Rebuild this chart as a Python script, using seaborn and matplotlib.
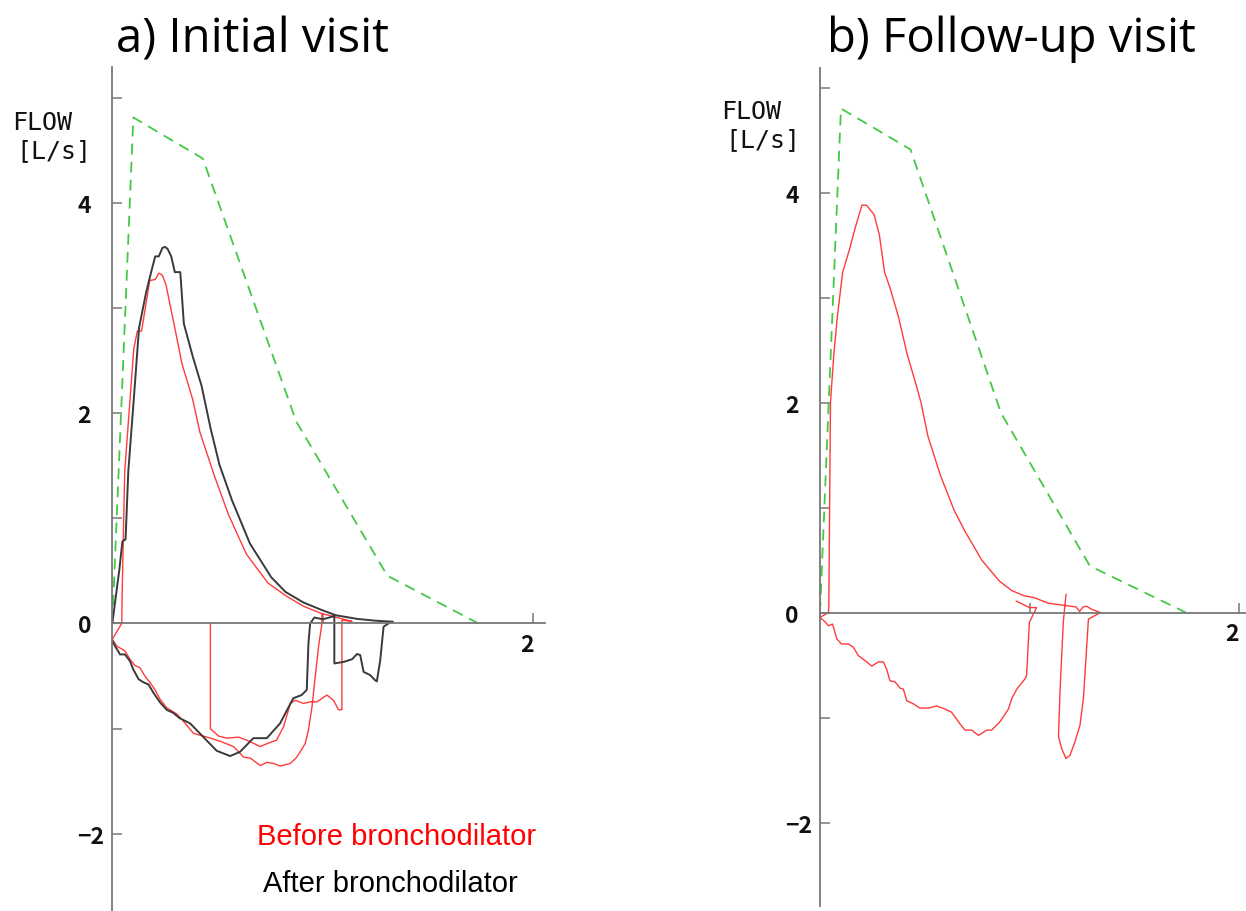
import numpy as np
import pandas as pd
import matplotlib
matplotlib.use("Agg")
import matplotlib.pyplot as plt
import seaborn as sns

# ---- data (volume [L], flow [L/s]) ----
# predicted curve (green dashed)
a_pred_vol = [0.0, 0.10, 0.43, 0.874, 1.307, 1.74]
a_pred_flow = [0.0, 4.81, 4.42, 1.92, 0.454, 0.0]
b_pred_vol = [0.0, 0.10, 0.432, 0.864, 1.288, 1.746]
b_pred_flow = [0.0, 4.80, 4.41, 1.90, 0.443, 0.0]

# a) before bronchodilator (red): 2nd inspiration -> expiration -> 1st inspiration
a_before_vol = [0.996, 0.996, 0.98, 0.964, 0.949, 0.932, 0.917, 0.877, 0.846, 0.798,
                0.766, 0.735, 0.703, 0.656, 0.624, 0.576, 0.513, 0.45, 0.386, 0.33,
                0.306, 0.258, 0.227, 0.203, 0.179, 0.155, 0.131, 0.108, 0.084, 0.06,
                0.021, 0.0,
                0.045, 0.047, 0.059, 0.102, 0.119, 0.139, 0.178, 0.204, 0.221, 0.238,
                0.255, 0.297, 0.331, 0.382, 0.416, 0.484, 0.552, 0.637, 0.739, 0.823,
                0.908, 0.993, 1.061, 1.10, 1.139,
                1.10, 1.091, 1.091, 1.075, 1.051, 1.02, 0.972, 0.94, 0.909, 0.869,
                0.846, 0.814, 0.78, 0.75, 0.703, 0.64, 0.60, 0.544, 0.505, 0.466,
                0.466]
a_before_flow = [0.095, 0.0, -0.22, -0.51, -0.79, -1.01, -1.14, -1.27, -1.33, -1.355,
                 -1.33, -1.32, -1.35, -1.28, -1.27, -1.17, -1.12, -1.08, -1.045, -0.91,
                 -0.86, -0.80, -0.72, -0.63, -0.56, -0.50, -0.42, -0.40, -0.34, -0.26,
                 -0.215, -0.15,
                 0.0, 0.3, 1.445, 2.61, 2.78, 2.78, 3.26, 3.27, 3.33, 3.31,
                 3.22, 2.81, 2.47, 2.13, 1.82, 1.41, 1.035, 0.66, 0.386, 0.266,
                 0.164, 0.096, 0.061, 0.04, 0.02,
                 0.03, 0.03, -0.82, -0.82, -0.73, -0.68, -0.745, -0.745, -0.76, -0.73,
                 -0.76, -0.98, -1.11, -1.13, -1.17, -1.11, -1.08, -1.09, -1.07, -1.0,
                 0.0]

# a) after bronchodilator (black)
a_after_vol = [0.0, 0.034, 0.048, 0.063, 0.076, 0.102, 0.127, 0.161, 0.187, 0.204,
               0.221, 0.238, 0.250, 0.263, 0.280, 0.297, 0.323, 0.340, 0.382, 0.424,
               0.467, 0.509, 0.569, 0.654, 0.755, 0.823, 0.908, 0.993, 1.061, 1.163,
               1.248, 1.333,
               1.32, 1.289, 1.273, 1.257, 1.249, 1.225, 1.194, 1.178, 1.163, 1.139,
               1.099, 1.055, 1.055, 1.0,
               0.96, 0.94, 0.932, 0.924, 0.90, 0.86, 0.797, 0.734, 0.67, 0.607,
               0.56, 0.496, 0.433, 0.37, 0.32, 0.29, 0.258, 0.227, 0.196, 0.172,
               0.149, 0.125, 0.10, 0.084, 0.06, 0.037, 0.013, 0.0]
a_after_flow = [0.0, 0.52, 0.78, 0.80, 1.445, 2.13, 2.81, 3.15, 3.36, 3.49,
                3.49, 3.57, 3.58, 3.56, 3.49, 3.34, 3.34, 2.85, 2.54, 2.26,
                1.855, 1.51, 1.17, 0.76, 0.44, 0.30, 0.20, 0.13, 0.079, 0.044,
                0.027, 0.017,
                0.01, -0.03, -0.35, -0.55, -0.54, -0.49, -0.46, -0.30, -0.29, -0.34,
                -0.365, -0.38, 0.07, 0.04,
                0.057, 0.0, -0.19, -0.63, -0.68, -0.71, -0.95, -1.09, -1.09, -1.22,
                -1.26, -1.21, -1.08, -0.95, -0.90, -0.85, -0.82, -0.75, -0.66, -0.58,
                -0.56, -0.53, -0.437, -0.358, -0.294, -0.294, -0.215, -0.165]

# b) follow-up (red): inspiration -> expiration -> second inspiration
b_before_vol = [0.936, 0.999, 1.034, 1.018, 0.999, 0.986, 0.979, 0.939, 0.915, 0.899,
                0.859, 0.819, 0.796, 0.756, 0.724, 0.692, 0.668, 0.628, 0.597, 0.557,
                0.517, 0.477, 0.446, 0.414, 0.398, 0.382, 0.358, 0.334, 0.318, 0.302,
                0.279, 0.247, 0.223, 0.183, 0.159, 0.135, 0.103, 0.08, 0.06, 0.04,
                0.024, 0.0,
                0.04, 0.042, 0.05, 0.066, 0.083, 0.108, 0.141, 0.166, 0.2, 0.221,
                0.258, 0.283, 0.308, 0.333, 0.374, 0.416, 0.457, 0.482, 0.515, 0.574,
                0.64, 0.69, 0.773, 0.856, 0.914, 0.973, 1.022, 1.089, 1.155, 1.222,
                1.239, 1.255, 1.272, 1.297, 1.338,
                1.281, 1.27, 1.257, 1.241, 1.217, 1.193, 1.174, 1.154, 1.138, 1.146,
                1.161, 1.174]
b_before_flow = [0.11, 0.047, 0.047, -0.016, -0.095, -0.60, -0.63, -0.73, -0.82, -0.92,
                 -1.04, -1.12, -1.12, -1.17, -1.12, -1.12, -1.06, -0.95, -0.92, -0.89,
                 -0.91, -0.91, -0.87, -0.84, -0.73, -0.72, -0.66, -0.65, -0.54, -0.47,
                 -0.47, -0.51, -0.47, -0.41, -0.33, -0.30, -0.30, -0.25, -0.11, -0.126,
                 -0.088, -0.047,
                 0.0, 0.05, 2.0, 2.46, 2.82, 3.24, 3.46, 3.65, 3.88, 3.88,
                 3.79, 3.6, 3.24, 3.10, 2.82, 2.46, 2.18, 2.0, 1.68, 1.31,
                 0.975, 0.78, 0.496, 0.30, 0.21, 0.16, 0.142, 0.089, 0.071, 0.053,
                 0.01, 0.053, 0.06, 0.03, 0.0,
                 -0.063, -0.41, -0.82, -1.07, -1.23, -1.36, -1.39, -1.30, -1.18, -0.73,
                 -0.095, 0.174]

y_ticks = [-2, -1, 0, 1, 2, 3, 4, 5]
y_ticklabels = ["\u22122", "", "0", "", "2", "", "4", ""]
x_ticks = [1, 2]
x_ticklabels = ["", "2"]

sns.set_style("white")
plt.rcParams["font.family"] = ["Open Sans", "DejaVu Sans"]

W, H = 1246, 912
fig = plt.figure(figsize=(W / 100, H / 100), dpi=100)

# axes placed in pixels (left, bottom, right, top)
ax_a = fig.add_axes([112.3 / W, 0.0, (545 - 112.3) / W, (912 - 68) / H])
ax_b = fig.add_axes([820 / W, 5 / H, (1246 - 820) / W, (907 - 69) / H])

RED = "#ff3b3b"
DARK = "#3a3a3a"
GREEN = "#45c845"
AXC = "#777777"
TICKFONT = ["Noto Sans CJK JP", "DejaVu Sans"]


def draw(ax, pred_v, pred_f, traces, xmax, ylo, yhi):
    sns.lineplot(x=pred_v, y=pred_f, sort=False, estimator=None, ax=ax,
                 color=GREEN, linewidth=1.3, linestyle=(0, (6, 4)))
    for v, f, c, lw in traces:
        sns.lineplot(x=v, y=f, sort=False, estimator=None, ax=ax, color=c, linewidth=lw)
    ax.set_xlim(0, xmax)
    ax.set_ylim(ylo, yhi)
    ax.set_xlabel("")
    ax.set_ylabel("")
    for s in ["top", "right"]:
        ax.spines[s].set_visible(False)
    ax.spines["bottom"].set_position(("data", 0))
    for s in ["left", "bottom"]:
        ax.spines[s].set_color(AXC)
        ax.spines[s].set_linewidth(1.3)
    ax.set_yticks(y_ticks)
    ax.set_yticklabels(y_ticklabels, ha="left", fontsize=16.5, fontweight="bold",
                       family=TICKFONT, color="#111111")
    ax.set_xticks(x_ticks)
    ax.set_xticklabels(x_ticklabels, ha="right", fontsize=16.5, fontweight="bold",
                       family=TICKFONT, color="#111111")
    ax.tick_params(axis="y", left=True, direction="in", length=7.5, width=1.1,
                   color=AXC, pad=25)
    ax.tick_params(axis="x", bottom=True, direction="in", length=7.5, width=1.1,
                   color=AXC, pad=7)
    ax.set_facecolor("none")


draw(ax_a, a_pred_vol, a_pred_flow,
     [(a_before_vol, a_before_flow, RED, 1.0), (a_after_vol, a_after_flow, DARK, 1.4)],
     2.056, -2.733, 5.29)
draw(ax_b, b_pred_vol, b_pred_flow,
     [(b_before_vol, b_before_flow, RED, 1.0)],
     2.033, -2.795, 5.186)

# titles
fig.text(253 / W, 1 - 53 / H, "a) Initial visit", ha="center", va="baseline",
         fontsize=34, color="black", family=["Open Sans", "DejaVu Sans"])
fig.text(1011 / W, 1 - 52 / H, "b) Follow-up visit", ha="center", va="baseline",
         fontsize=34, color="black", family=["Open Sans", "DejaVu Sans"])

# y-axis unit labels
for x0, yb in [(12.5, 130), (721.6, 119)]:
    fig.text(x0 / W, 1 - yb / H, "FLOW", ha="left", va="baseline", fontsize=18,
             color="#111111", family=["DejaVu Sans Mono"])
    fig.text((x0 + 3.5) / W, 1 - (yb + 28) / H, "[L/s]", ha="left", va="baseline",
             fontsize=18, color="#111111", family=["DejaVu Sans Mono"])

# legend as coloured text
fig.text(397 / W, 1 - 845 / H, "Before bronchodilator", ha="center", va="baseline",
         fontsize=21, color="#ff0000", family=["Liberation Sans", "DejaVu Sans"])
fig.text(390 / W, 1 - 892 / H, "After bronchodilator", ha="center", va="baseline",
         fontsize=21, color="black", family=["Liberation Sans", "DejaVu Sans"])

fig.savefig("out.png", dpi=100)
